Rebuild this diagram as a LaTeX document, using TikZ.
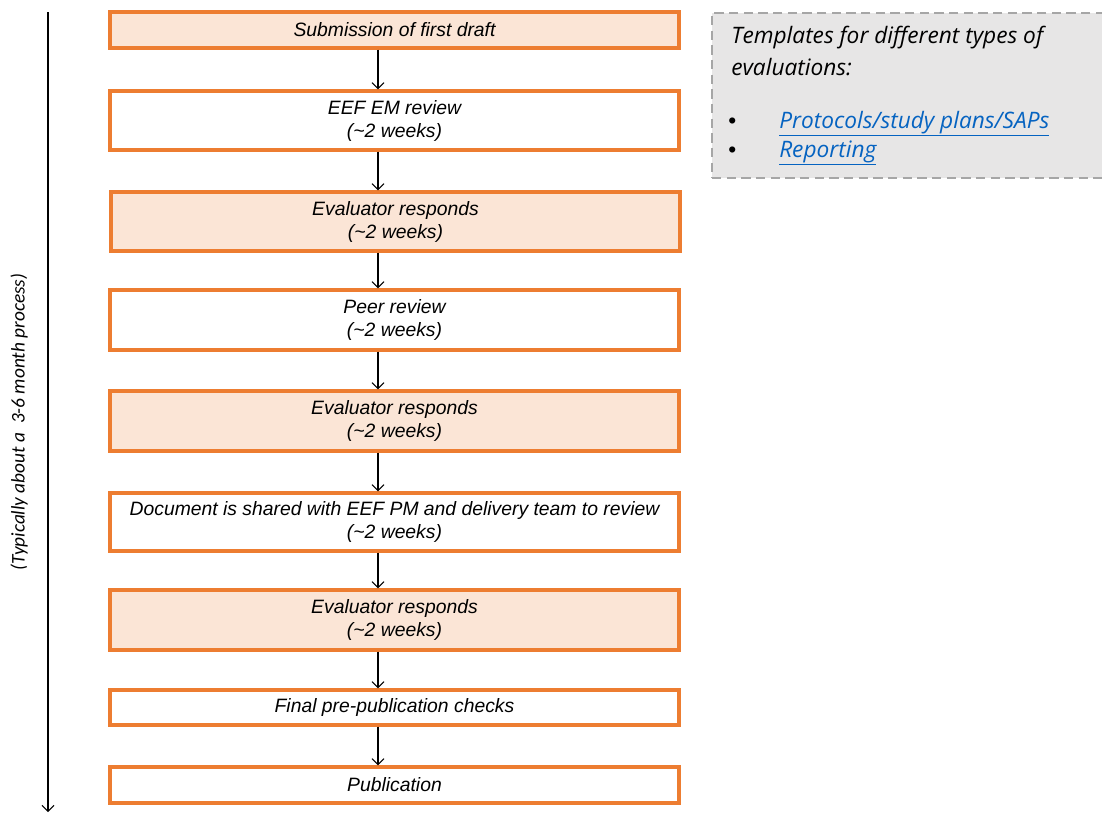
\documentclass[tikz,border=0pt]{standalone}
\usepackage{fontspec}
\usetikzlibrary{arrows.meta}
\setmainfont{Liberation Sans}
\newfontfamily\notefont{Carlito}
\newfontfamily\panelfont{Open Sans}
\definecolor{stepline}{HTML}{ED7D31}
\definecolor{stepfill}{HTML}{FBE5D6}
\definecolor{panelfill}{HTML}{E7E6E6}
\definecolor{panelline}{HTML}{A6A6A6}
\definecolor{linkblue}{HTML}{0563C1}
\begin{document}
\begin{tikzpicture}[x=0.75pt,y=-0.75pt,
  stepbox/.style={draw=stepline, line width=2.3pt, rectangle, align=center,
    minimum width=426.75pt, inner sep=0pt, font=\fontsize{14.5}{17.25}\selectfont\itshape},
  shaded/.style={stepbox, fill=stepfill},
  plain/.style={stepbox, fill=white},
  flow/.style={-{Straight Barb[length=4.5pt,width=9pt,line width=0.8pt]}, line width=0.8pt},
  panel/.style={draw=panelline, fill=panelfill, line width=1.4pt,
    dash pattern=on 7pt off 4pt, rectangle, inner sep=0pt},
  paneltext/.style={font=\panelfont\fontsize{17}{24.75}\selectfont\itshape, inner sep=0pt, align=left}
]
\useasboundingbox (0,0) rectangle (1102,814);

% process steps
\node[shaded, minimum height=27pt]    (s1) at (394.5,30)    {Submission of first draft};
\node[plain,  minimum height=44.25pt] (s2) at (394.5,120.5) {EEF EM review\\(\textasciitilde 2 weeks)};
\node[shaded, minimum height=44.25pt] (s3) at (395.5,221.5) {Evaluator responds\\(\textasciitilde 2 weeks)};
\node[plain,  minimum height=45pt]    (s4) at (394.5,320)   {Peer review\\(\textasciitilde 2 weeks)};
\node[shaded, minimum height=45pt]    (s5) at (394.5,421)   {Evaluator responds\\(\textasciitilde 2 weeks)};
\node[plain,  minimum height=43.5pt]  (s6) at (394.5,522)   {Document is shared with EEF PM and delivery team to review\\(\textasciitilde 2 weeks)};
\node[shaded, minimum height=45pt]    (s7) at (394.5,620)   {Evaluator responds\\(\textasciitilde 2 weeks)};
\node[plain,  minimum height=26.25pt] (s8) at (394.5,707.5) {Final pre-publication checks};
\node[plain,  minimum height=27pt]    (s9) at (394.5,785)   {Publication};

% connectors between steps run on one vertical line
\coordinate (ax) at (378,0);
\foreach \a/\b in {s1/s2,s2/s3,s3/s4,s4/s5,s5/s6,s6/s7,s7/s8,s8/s9}
  \draw[flow] (\a.south -| ax) -- (\b.north -| ax);

% overall timeline
\coordinate (t0) at (48,12);
\coordinate (t1) at (48,812);
\draw[flow] (t0) -- (t1);
\node[rotate=90, font=\notefont\fontsize{14.5}{17}\selectfont\itshape, inner sep=0pt] (tl) at (19,422)
  {(Typically about a\ \ 3-6 month process)};

% templates panel
\node[panel, anchor=north west, minimum width=300pt, minimum height=123.75pt] (tpl) at (711,12) {};
\node[paneltext, anchor=base west] (h1) at (731,43) {Templates for different types of};
\node[paneltext, anchor=base west] (h2) at (731,75) {evaluations:};
\node[paneltext, anchor=base west, font=\fontsize{17}{20}\selectfont] (b1) at (728,128) {\textbullet};
\node[paneltext, anchor=base west, font=\fontsize{17}{20}\selectfont] (b2) at (728,157) {\textbullet};
\node[paneltext, anchor=base west, text=linkblue] (l1) at (779,128) {\underline{Protocols/study plans/SAPs}};
\node[paneltext, anchor=base west, text=linkblue] (l2) at (779,157) {\underline{Reporting}};
\end{tikzpicture}
\end{document}
